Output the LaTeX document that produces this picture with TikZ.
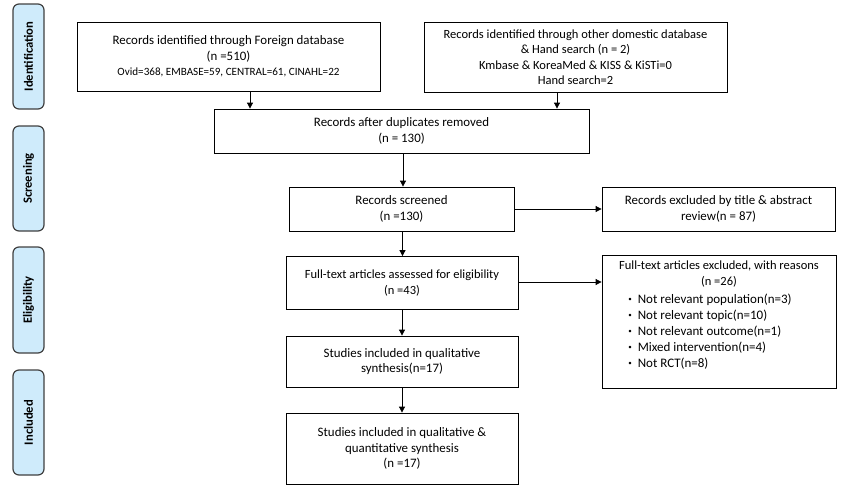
\documentclass[tikz,border=0pt]{standalone}
\usepackage{fontspec}
\setmainfont{Carlito}
\usetikzlibrary{arrows.meta}
\definecolor{phasefill}{HTML}{CFEBFB}
\definecolor{phasedraw}{HTML}{404040}
\newcommand{\fsA}{\fontsize{12.9}{15.5}\selectfont}
\newcommand{\fsB}{\fontsize{12.5}{15.5}\selectfont}
\newcommand{\smbul}{\raisebox{1.5pt}{\fontsize{7}{7}\selectfont\textbullet}}
\tikzset{
  box/.style={draw=black, line width=0.8pt, fill=white, align=center, inner sep=2pt,
    font=\fsA},
  phase/.style={draw=phasedraw, line width=1.2pt, fill=phasefill, rounded corners=6pt,
    minimum width=31pt, inner sep=0pt},
  phasetext/.style={rotate=90, font=\fontsize{12.6}{14}\selectfont\bfseries},
  arr/.style={draw=black, line width=0.8pt, -{Triangle[length=6pt,width=6pt]}}
}
\begin{document}
\begin{tikzpicture}[x=1pt,y=1pt]
\useasboundingbox (0,0) rectangle (841,-491);
% phase labels
\node[phase, minimum height=105pt] (P1) at (28.5,-56.5) {};
\node[phasetext] (T1) at (P1.center) {Identification};
\node[phase, minimum height=105pt] (P2) at (28.5,-178.5) {};
\node[phasetext] (T2) at (P2.center) {Screening};
\node[phase, minimum height=106pt] (P3) at (28.5,-300) {};
\node[phasetext] (T3) at (P3.center) {Eligibility};
\node[phase, minimum height=105pt] (P4) at (28.5,-422.5) {};
\node[phasetext] (T4) at (P4.center) {Included};
% boxes
\node[box, minimum width=303pt, minimum height=69pt] (B1) at (228.5,-56.5)
  {Records identified through Foreign database\\(n =510)\\{\fontsize{11.1}{15.5}\selectfont Ovid=368, EMBASE=59, CENTRAL=61, CINAHL=22}};
\node[box, font=\fsB, minimum width=303pt, minimum height=70pt] (B2) at (575.5,-57)
  {Records identified through other domestic database\\\& Hand search (n = 2)\\Kmbase \& KoreaMed \& KISS \& KiSTi=0\\Hand search=2};
\node[box, minimum width=375pt, minimum height=44pt] (B3) at (401.5,-131)
  {Records after duplicates removed\\(n = 130)};
\node[box, minimum width=225pt, minimum height=44pt] (B4) at (401.5,-209)
  {Records screened\\(n =130)};
\node[box, minimum width=233pt, minimum height=44pt] (B5) at (718.5,-209)
  {Records excluded by title \& abstract\\review(n = 87)};
\node[box, font=\fsB, minimum width=232pt, minimum height=53pt] (B6) at (402,-283)
  {Full-text articles assessed for eligibility\\(n =43)};
\node[box, font=\fontsize{12.5}{16}\selectfont, minimum width=234pt, minimum height=133pt] (B7) at (719,-321.5)
  {Full-text articles excluded, with reasons\\(n =26)\\[4pt]
   \hspace*{-18pt}{\fontsize{13}{16}\selectfont\begin{tabular}{@{}l@{\hspace{6pt}}l@{}}
   \smbul & Not relevant population(n=3)\\
   \smbul & Not relevant topic(n=10)\\
   \smbul & Not relevant outcome(n=1)\\
   \smbul & Mixed intervention(n=4)\\
   \smbul & Not RCT(n=8)
   \end{tabular}}\\[9pt]};
\node[box, minimum width=232pt, minimum height=51pt] (B8) at (402,-361.5)
  {Studies included in qualitative\\synthesis(n=17)};
\node[box, minimum width=232pt, minimum height=71pt] (B9) at (402,-448.5)
  {Studies included in qualitative \&\\quantitative synthesis\\(n =17)};
% connectors
\draw[arr] ([xshift=21.5pt]B1.south) coordinate (a1) -- (a1 |- B3.north);
\draw[arr] ([xshift=-18.5pt]B2.south) coordinate (a2) -- (a2 |- B3.north);
\draw[arr] ([xshift=1.5pt]B3.south) coordinate (a3) -- (a3 |- B4.north);
\draw[arr] (B4.east) -- (B5.west);
\draw[arr] ([xshift=1pt]B4.south) coordinate (a4) -- (a4 |- B6.north);
\draw[arr] ([yshift=1pt]B6.east) coordinate (a5) -- (a5 -| B7.west);
\draw[arr] (B6.south) -- (B8.north);
\draw[arr] (B8.south) -- (B9.north);
\end{tikzpicture}
\end{document}
